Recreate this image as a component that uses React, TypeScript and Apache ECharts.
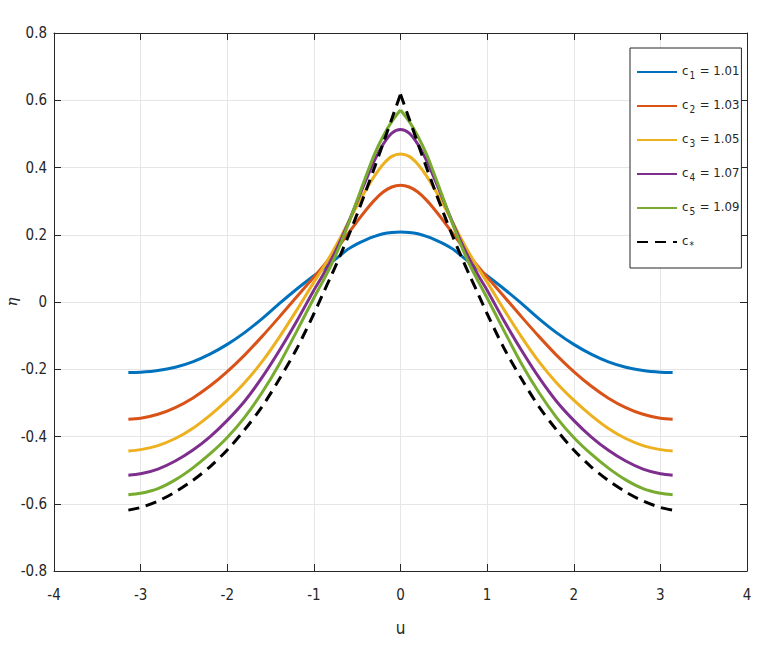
import React, { useEffect, useRef } from "react";
import * as echarts from "echarts";

// u grid (from -pi to pi)
const U = [-3.1416, -3.0, -2.8, -2.6, -2.4, -2.2, -2.0, -1.8, -1.6, -1.4, -1.2, -1.0, -0.9, -0.8, -0.7, -0.6, -0.5, -0.4, -0.3, -0.2, -0.1, 0, 0.1, 0.2, 0.3, 0.4, 0.5, 0.6, 0.7, 0.8, 0.9, 1.0, 1.2, 1.4, 1.6, 1.8, 2.0, 2.2, 2.4, 2.6, 2.8, 3.0, 3.1416];

const C1 = [-0.210, -0.209, -0.204, -0.194, -0.178, -0.155, -0.126, -0.091, -0.050, -0.005, 0.038, 0.078, 0.097, 0.117, 0.138, 0.158, 0.173, 0.185, 0.195, 0.203, 0.207, 0.208, 0.207, 0.203, 0.195, 0.185, 0.173, 0.158, 0.138, 0.117, 0.097, 0.078, 0.038, -0.005, -0.050, -0.091, -0.126, -0.155, -0.178, -0.194, -0.204, -0.209, -0.210];
const C2 = [-0.349, -0.346, -0.334, -0.314, -0.286, -0.250, -0.207, -0.158, -0.103, -0.045, 0.015, 0.074, 0.104, 0.136, 0.170, 0.205, 0.240, 0.273, 0.303, 0.327, 0.342, 0.347, 0.342, 0.327, 0.303, 0.273, 0.240, 0.205, 0.170, 0.136, 0.104, 0.074, 0.015, -0.045, -0.103, -0.158, -0.207, -0.250, -0.286, -0.314, -0.334, -0.346, -0.349];
const C3 = [-0.443, -0.439, -0.427, -0.406, -0.376, -0.337, -0.292, -0.240, -0.178, -0.105, -0.025, 0.059, 0.099, 0.142, 0.188, 0.238, 0.287, 0.333, 0.375, 0.410, 0.433, 0.440, 0.433, 0.410, 0.375, 0.333, 0.287, 0.238, 0.188, 0.142, 0.099, 0.059, -0.025, -0.105, -0.178, -0.240, -0.292, -0.337, -0.376, -0.406, -0.427, -0.439, -0.443];
const C4 = [-0.515, -0.511, -0.497, -0.473, -0.441, -0.401, -0.352, -0.295, -0.225, -0.145, -0.058, 0.035, 0.078, 0.125, 0.178, 0.237, 0.300, 0.362, 0.421, 0.469, 0.502, 0.513, 0.502, 0.469, 0.421, 0.362, 0.300, 0.237, 0.178, 0.125, 0.078, 0.035, -0.058, -0.145, -0.225, -0.295, -0.352, -0.401, -0.441, -0.473, -0.497, -0.511, -0.515];
const C5 = [-0.573, -0.569, -0.555, -0.529, -0.494, -0.452, -0.403, -0.343, -0.270, -0.185, -0.088, 0.012, 0.060, 0.110, 0.168, 0.233, 0.303, 0.373, 0.440, 0.493, 0.537, 0.571, 0.537, 0.493, 0.440, 0.373, 0.303, 0.233, 0.168, 0.110, 0.060, 0.012, -0.088, -0.185, -0.270, -0.343, -0.403, -0.452, -0.494, -0.529, -0.555, -0.569, -0.573];
const CSTAR = [-0.619, -0.611, -0.592, -0.565, -0.531, -0.490, -0.440, -0.380, -0.312, -0.230, -0.140, -0.035, 0.022, 0.078, 0.136, 0.197, 0.262, 0.330, 0.400, 0.472, 0.545, 0.618, 0.545, 0.472, 0.400, 0.330, 0.262, 0.197, 0.136, 0.078, 0.022, -0.035, -0.140, -0.230, -0.312, -0.380, -0.440, -0.490, -0.531, -0.565, -0.592, -0.611, -0.619];

const SERIES_VALUES = [C1, C2, C3, C4, C5, CSTAR];
const SERIES_NAMES = ["c1", "c2", "c3", "c4", "c5", "c*"];
const LEGEND_SUBS = ["1", "2", "3", "4", "5", "*"];
const LEGEND_VALUES = ["1.01", "1.03", "1.05", "1.07", "1.09", ""];
const COLORS = ["#0072BD", "#D95319", "#EDB120", "#7E2F8E", "#77AC30", "#000000"];
// series whose crest is a corner (drawn as two smooth halves meeting at u = 0)
const PEAKED = [false, false, false, false, true, true];

const X_MIN = -4;
const X_MAX = 4;
const X_STEP = 1;
const Y_MIN = -0.8;
const Y_MAX = 0.8;
const Y_STEP = 0.2;

const FONT = "'Liberation Sans Narrow', 'DejaVu Sans Condensed', 'Liberation Sans', sans-serif";
const AXIS_COLOR = "#262626";

export default function App() {
  const ref = useRef<HTMLDivElement>(null);
  useEffect(() => {
    if (!ref.current) return;
    const chart = echarts.init(ref.current, null, { renderer: "svg" });

    const axisCommon = {
      axisLine: { show: true, onZero: false, lineStyle: { color: AXIS_COLOR, width: 1 } },
      axisTick: { show: true, inside: true, length: 7, lineStyle: { color: AXIS_COLOR, width: 1 } },
    };

    const mid = U.indexOf(0);
    const series: any[] = [];
    SERIES_VALUES.forEach((vals, i) => {
      const pts = U.map((u, k) => [u, vals[k]]);
      const parts = PEAKED[i] ? [pts.slice(0, mid + 1), pts.slice(mid)] : [pts];
      parts.forEach((data) => {
        series.push({
          name: SERIES_NAMES[i],
          type: "line",
          data,
          symbol: "none",
          smooth: 0.3,
          lineStyle: {
            color: COLORS[i],
            width: 3,
            type: i === 5 ? [11, 7] : "solid",
          },
          itemStyle: { color: COLORS[i] },
          z: 3 + i,
        });
      });
    });

    chart.setOption({
      animation: false,
      backgroundColor: "#ffffff",
      grid: { left: 54, right: 16, top: 33, bottom: 82, containLabel: false, outerBoundsMode: "none" },
      xAxis: [
        {
          type: "value",
          min: X_MIN,
          max: X_MAX,
          interval: X_STEP,
          name: "u",
          nameLocation: "middle",
          nameGap: 48,
          nameMoveOverlap: false,
          nameTextStyle: { fontFamily: FONT, fontSize: 17, color: AXIS_COLOR },
          ...axisCommon,
          axisLabel: { margin: 16, fontFamily: FONT, fontSize: 15, color: AXIS_COLOR },
          splitLine: { show: true, lineStyle: { color: "#e6e6e6", width: 1 } },
        },
        {
          type: "value",
          position: "top",
          min: X_MIN,
          max: X_MAX,
          interval: X_STEP,
          ...axisCommon,
          axisLabel: { show: false },
          splitLine: { show: false },
        },
      ],
      yAxis: [
        {
          type: "value",
          min: Y_MIN,
          max: Y_MAX,
          interval: Y_STEP,
          name: "η",
          nameLocation: "middle",
          nameGap: 35,
          nameMoveOverlap: false,
          nameRotate: 90,
          nameTextStyle: { fontFamily: "'DejaVu Serif', serif", fontStyle: "italic", fontSize: 15, color: AXIS_COLOR },
          ...axisCommon,
          axisLabel: { margin: 7, fontFamily: FONT, fontSize: 15, color: AXIS_COLOR },
          splitLine: { show: true, lineStyle: { color: "#e6e6e6", width: 1 } },
        },
        {
          type: "value",
          position: "right",
          min: Y_MIN,
          max: Y_MAX,
          interval: Y_STEP,
          ...axisCommon,
          axisLabel: { show: false },
          splitLine: { show: false },
        },
      ],
      legend: {
        orient: "vertical",
        left: 630,
        top: 48,
        padding: [14, 2, 18, 6],
        itemWidth: 40,
        itemHeight: 14,
        itemGap: 16,
        backgroundColor: "#ffffff",
        borderColor: AXIS_COLOR,
        borderWidth: 1,
        borderRadius: 0,
        data: SERIES_NAMES,
        itemStyle: { opacity: 0 },
        formatter: (name: string) => {
          const i = SERIES_NAMES.indexOf(name);
          const v = LEGEND_VALUES[i];
          return `{m|c}{s|${LEGEND_SUBS[i]}}` + (v ? `{m| = ${v}}` : "");
        },
        textStyle: {
          color: AXIS_COLOR,
          fontFamily: FONT,
          rich: {
            m: { fontFamily: FONT, fontSize: 13, lineHeight: 16, verticalAlign: "top", color: AXIS_COLOR },
            s: { fontFamily: FONT, fontSize: 10, lineHeight: 12, padding: [8, 1, 0, 1], verticalAlign: "bottom", color: AXIS_COLOR },
          },
        },
      },
      series,
    });

    return () => chart.dispose();
  }, []);

  return (
    <div
      ref={ref}
      style={{ position: "absolute", left: 0, top: 0, width: 763, height: 653 }}
    />
  );
}
